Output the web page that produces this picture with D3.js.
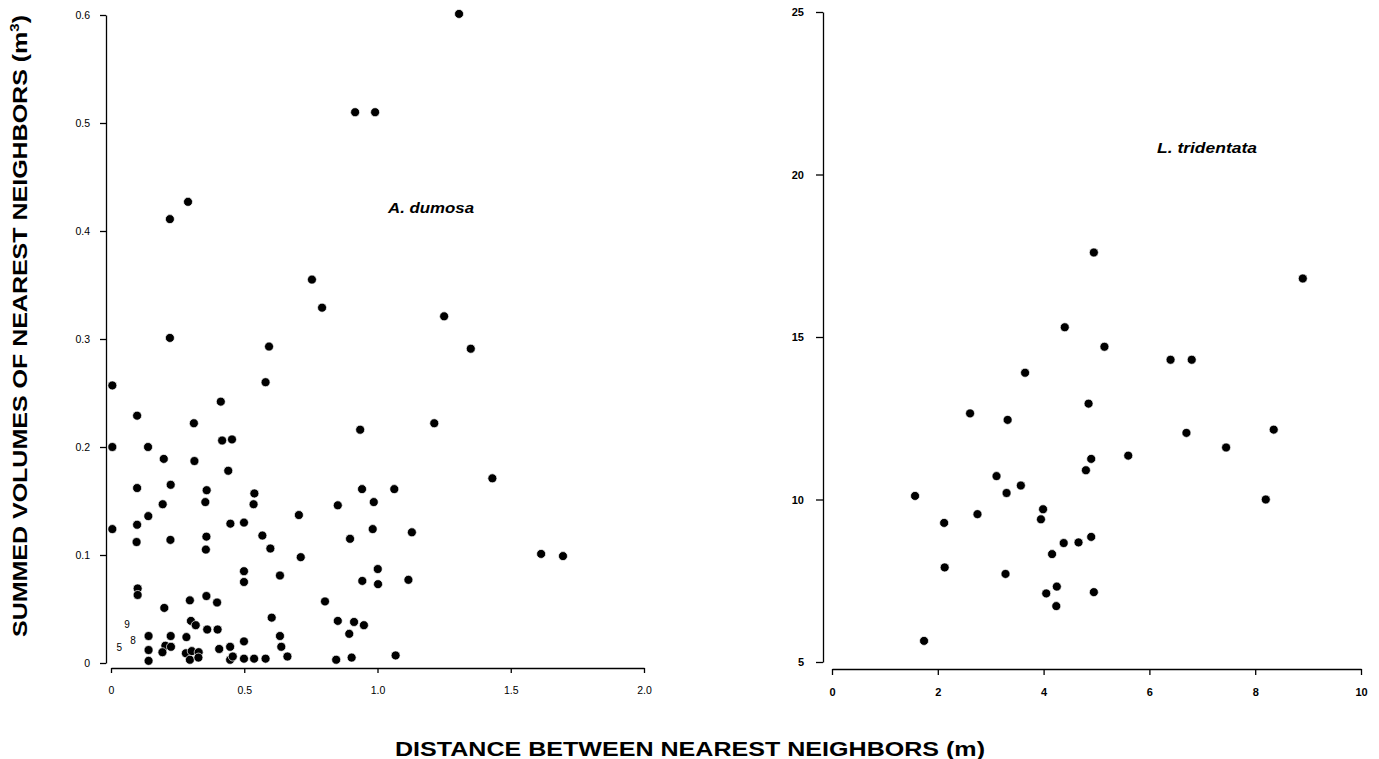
<!DOCTYPE html>
<html>
<head>
<meta charset="utf-8">
<script src="https://cdn.jsdelivr.net/npm/d3@7"></script>
<style>
  body { margin: 0; background: #fff; }
  text { font-family: "Liberation Sans", Arial, sans-serif; fill: #000; }
</style>
</head>
<body>
<div id="chart"></div>
<script>
// A. dumosa: distance (m) and summed volume (m3)
var dumosaDist = [0.005,0.580,0.412,0.098,0.311,0.935,0.005,0.139,0.417,0.454,
  0.198,0.313,0.440,0.098,0.224,0.359,0.538,0.942,1.063,0.194,
  0.354,0.535,0.851,0.986,0.140,0.705,0.005,0.098,0.448,0.499,
  0.982,0.096,0.223,0.358,0.568,0.897,0.356,0.598,0.712,0.499,
  1.001,0.499,0.634,0.943,1.002,0.100,0.100,0.296,0.358,0.398,
  0.803,0.200,0.603,0.300,0.318,0.361,0.400,0.851,0.912,0.949,
  0.141,0.224,0.283,0.634,0.894,0.499,0.141,0.204,0.225,0.193,
  0.406,0.447,0.639,0.141,0.281,0.303,0.329,0.296,0.328,0.447,
  0.457,0.499,0.537,0.580,0.662,0.845,0.903,1.068,
  1.213,1.431,1.129,1.614,1.696,1.116,
  1.306,0.916,0.991,0.289,0.221,0.754,0.792,0.221,1.250,1.350,0.593];
var dumosaVol = [0.257,0.260,0.242,0.229,0.222,0.216,0.200,0.200,0.206,0.207,
  0.189,0.187,0.178,0.162,0.165,0.160,0.157,0.161,0.161,0.147,
  0.149,0.147,0.146,0.149,0.136,0.137,0.124,0.128,0.129,0.130,
  0.124,0.112,0.114,0.117,0.118,0.115,0.105,0.106,0.098,0.085,
  0.087,0.075,0.081,0.076,0.073,0.069,0.063,0.058,0.062,0.056,
  0.057,0.051,0.042,0.039,0.035,0.031,0.031,0.039,0.038,0.035,
  0.025,0.025,0.024,0.025,0.027,0.020,0.012,0.016,0.015,0.010,
  0.013,0.015,0.015,0.002,0.009,0.011,0.010,0.003,0.005,0.003,
  0.006,0.004,0.004,0.004,0.006,0.003,0.005,0.007,
  0.222,0.171,0.121,0.101,0.099,0.077,
  0.601,0.510,0.510,0.427,0.411,0.355,0.329,0.301,0.321,0.291,0.293];

// overlapping points near the origin, shown as counts
var countLabels = ["9", "8", "5"];
var countDist = [0.060, 0.083, 0.031];
var countVol = [0.036, 0.021, 0.014];

// L. tridentata: distance (m) and summed volume (m3)
var tridDist = [1.57,1.74,2.12,2.13,2.61,2.75,3.11,3.32,3.30,3.28,
  3.57,3.65,3.95,3.99,4.05,4.16,4.38,4.25,4.24,4.40,
  4.66,4.80,4.85,4.90,4.90,4.95,4.95,5.15,5.60,6.40,
  6.70,6.80,7.45,8.20,8.35,8.90];
var tridVol = [10.11,5.65,9.28,7.91,12.65,9.55,10.72,12.45,10.20,7.71,
  10.43,13.90,9.39,9.70,7.11,8.32,8.66,7.32,6.72,15.30,
  8.68,10.90,12.95,11.25,8.85,17.60,7.15,14.70,11.35,14.30,
  12.05,14.30,11.60,10.00,12.15,16.80];

var leftXTicks = [0, 0.5, 1.0, 1.5, 2.0];
var leftYTicks = [0, 0.1, 0.2, 0.3, 0.4, 0.5, 0.6];
var rightXTicks = [0, 2, 4, 6, 8, 10];
var rightYTicks = [5, 10, 15, 20, 25];

var svgWidth = 1379;
var svgHeight = 759;

var svg = d3.select("#chart")
  .append("svg")
  .attr("width", svgWidth)
  .attr("height", svgHeight);

var fmt = function(d) { return d === 0 ? "0" : d3.format(".1f")(d); };

// scales
var xL = d3.scaleLinear().domain([0, 2]).range([111, 644]);
var yL = d3.scaleLinear().domain([0, 0.6]).range([663, 15]);
var xR = d3.scaleLinear().domain([0, 10]).range([832, 1361]);
var yR = d3.scaleLinear().domain([5, 25]).range([662, 12]);

function styleAxis(g, bold) {
  g.select(".domain").attr("stroke", "#000").attr("stroke-width", 1.3);
  g.selectAll(".tick line").attr("stroke", "#000").attr("stroke-width", 1.3);
  g.selectAll(".tick text")
    .attr("font-family", "'Liberation Sans', Arial, sans-serif")
    .attr("font-size", bold ? "11px" : "10.5px")
    .attr("font-weight", bold ? "bold" : "normal")
    .attr("fill", "#000");
}

// left panel axes
svg.append("g")
  .attr("transform", "translate(106,0)")
  .call(d3.axisLeft(yL).tickValues(leftYTicks).tickFormat(fmt).tickSize(6).tickSizeOuter(0).tickPadding(10))
  .call(styleAxis, false);

svg.append("g")
  .attr("transform", "translate(0,668)")
  .call(d3.axisBottom(xL).tickValues(leftXTicks).tickFormat(fmt).tickSize(5).tickSizeOuter(0).tickPadding(14))
  .call(styleAxis, false);

// right panel axes
svg.append("g")
  .attr("transform", "translate(823,0)")
  .call(d3.axisLeft(yR).tickValues(rightYTicks).tickSize(7).tickSizeOuter(0).tickPadding(12))
  .call(styleAxis, true);

svg.append("g")
  .attr("transform", "translate(0,669)")
  .call(d3.axisBottom(xR).tickValues(rightXTicks).tickSize(6).tickSizeOuter(0).tickPadding(13))
  .call(styleAxis, true);

// points
svg.append("g")
  .selectAll("circle")
  .data(dumosaDist)
  .enter()
  .append("circle")
  .attr("cx", d => xL(d))
  .attr("cy", (d, i) => yL(dumosaVol[i]))
  .attr("r", 4.5)
  .attr("fill", "#000")
  .attr("stroke", "#fff")
  .attr("stroke-width", 0.7);

svg.append("g")
  .selectAll("circle")
  .data(tridDist)
  .enter()
  .append("circle")
  .attr("cx", d => xR(d))
  .attr("cy", (d, i) => yR(tridVol[i]))
  .attr("r", 4.5)
  .attr("fill", "#000")
  .attr("stroke", "#fff")
  .attr("stroke-width", 0.7);

svg.append("g")
  .selectAll("text")
  .data(countLabels)
  .enter()
  .append("text")
  .attr("x", (d, i) => xL(countDist[i]))
  .attr("y", (d, i) => yL(countVol[i]))
  .attr("dy", "0.35em")
  .attr("text-anchor", "middle")
  .attr("font-size", "10px")
  .text(d => d);

// species labels
svg.append("text")
  .attr("x", 388)
  .attr("y", 213)
  .attr("font-size", "14px")
  .attr("font-weight", "bold")
  .attr("font-style", "italic")
  .attr("textLength", 86)
  .attr("lengthAdjust", "spacingAndGlyphs")
  .text("A. dumosa");

svg.append("text")
  .attr("x", 1157)
  .attr("y", 153)
  .attr("font-size", "14px")
  .attr("font-weight", "bold")
  .attr("font-style", "italic")
  .attr("textLength", 100)
  .attr("lengthAdjust", "spacingAndGlyphs")
  .text("L. tridentata");

// axis titles
var yTitle = svg.append("text")
  .attr("transform", "translate(27,326) rotate(-90)")
  .attr("text-anchor", "middle")
  .attr("font-size", "20px")
  .attr("font-weight", "bold")
  .attr("textLength", 622)
  .attr("lengthAdjust", "spacingAndGlyphs");
yTitle.append("tspan").text("SUMMED VOLUMES OF NEAREST NEIGHBORS (m");
yTitle.append("tspan").attr("font-size", "12px").attr("dy", "-8").text("3");
yTitle.append("tspan").attr("dy", "8").text(")");

svg.append("text")
  .attr("x", 690)
  .attr("y", 756)
  .attr("text-anchor", "middle")
  .attr("font-size", "20px")
  .attr("font-weight", "bold")
  .attr("textLength", 590)
  .attr("lengthAdjust", "spacingAndGlyphs")
  .text("DISTANCE BETWEEN NEAREST NEIGHBORS (m)");
</script>
</body>
</html>
